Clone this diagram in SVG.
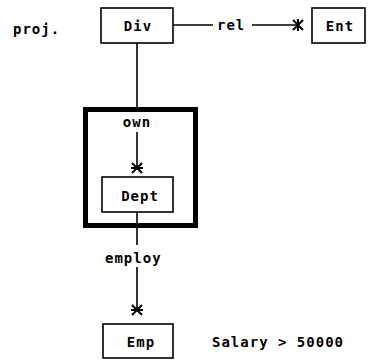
<svg xmlns="http://www.w3.org/2000/svg" width="372" height="360" viewBox="0 0 372 360">
<style>
.box{fill:#fff;stroke:#000;stroke-width:1.6}
.thick{fill:none;stroke:#000;stroke-width:5}
.ln{stroke:#000;stroke-width:1.6;fill:none}
.star{stroke:#000;stroke-width:2;fill:none}
text{font-family:"DejaVu Sans Mono","Liberation Mono",monospace;font-weight:bold;font-size:14px;letter-spacing:1px;fill:#000}
</style>
<rect width="372" height="360" fill="#fff"/>
<text x="13" y="34">proj.</text>
<g id="connectors">
<line class="ln" x1="173" y1="25" x2="213" y2="25"/>
<line class="ln" x1="252" y1="25" x2="298" y2="25"/>
<path class="star" d="M298,19 V31 M293,20 L303,30 M293,30 L303,20"/>
<line class="ln" x1="137" y1="43" x2="137" y2="108"/>
<line class="ln" x1="137" y1="132" x2="137" y2="168"/>
<path class="star" d="M131,168 H143 M132,163 L142,173 M132,173 L142,163"/>
<line class="ln" x1="137" y1="212" x2="137" y2="245"/>
<line class="ln" x1="137" y1="267" x2="137" y2="310"/>
<path class="star" d="M131,310 H143 M132,305 L142,315 M132,315 L142,305"/>
</g>
<g id="div"><rect class="box" x="101" y="8" width="72" height="35"/><text x="138" y="31" text-anchor="middle">Div</text></g>
<g id="ent"><rect class="box" x="312" y="8" width="53" height="35"/><text x="340" y="31" text-anchor="middle">Ent</text></g>
<text x="217" y="30">rel</text>
<g id="own"><rect class="thick" x="85.5" y="109.5" width="110" height="116"/><text x="137" y="127" text-anchor="middle">own</text></g>
<g id="dept"><rect class="box" x="102" y="177" width="71" height="35"/><text x="140" y="201" text-anchor="middle">Dept</text></g>
<text x="105" y="263">employ</text>
<g id="emp"><rect class="box" x="103" y="324" width="70" height="34"/><text x="141" y="347" text-anchor="middle">Emp</text></g>
<text x="212" y="347">Salary &gt; 50000</text>
</svg>
